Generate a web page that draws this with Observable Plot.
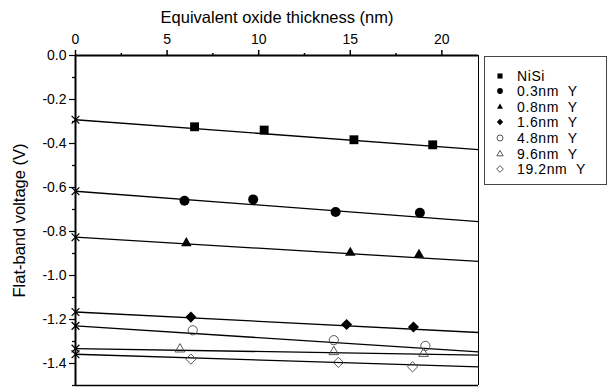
<!DOCTYPE html>
<html>
<head>
<meta charset="utf-8">
<script src="https://cdn.jsdelivr.net/npm/d3@7"></script>
<script src="https://cdn.jsdelivr.net/npm/@observablehq/plot@0.6"></script>
<style>
  html, body { margin: 0; padding: 0; background: #fff; }
  #wrap { position: relative; width: 610px; height: 392px; font-family: "Liberation Sans", Arial, sans-serif; }
  #legend { position: absolute; left: 484px; top: 56px; width: 123px; height: 129px; border: 1px solid #444; box-sizing: border-box; background: #fff; }
  #legend .row { position: absolute; left: 0; height: 15px; display: flex; align-items: center; font-size: 14px; letter-spacing: 0.6px; color: #000; white-space: pre; }
  #legend svg { width: 14px; height: 14px; margin-left: 8px; margin-right: 10px; overflow: visible; }
</style>
</head>
<body>
<div id="wrap"></div>
<script>
// ---- data ----
const seriesNames = ["NiSi", "0.3nm Y", "0.8nm Y", "1.6nm Y", "4.8nm Y", "9.6nm Y", "19.2nm Y"];
const seriesSymbols = ["square", "circle", "triangle2", "diamond2", "circle", "triangle2", "diamond2"];
const seriesFilled = [true, true, true, true, false, false, false];

const eotNiSi = [6.5, 10.3, 15.2, 19.5];
const vfbNiSi = [-0.324, -0.339, -0.383, -0.406];
const eot03 = [5.95, 9.7, 14.2, 18.8];
const vfb03 = [-0.660, -0.654, -0.711, -0.715];
const eot08 = [6.05, 15.0, 18.75];
const vfb08 = [-0.853, -0.897, -0.906];
const eot16 = [6.3, 14.8, 18.45];
const vfb16 = [-1.189, -1.223, -1.234];
const eot48 = [6.4, 14.1, 19.1];
const vfb48 = [-1.249, -1.294, -1.320];
const eot96 = [5.7, 14.1, 19.0];
const vfb96 = [-1.335, -1.347, -1.355];
const eot192 = [6.3, 14.35, 18.4];
const vfb192 = [-1.380, -1.395, -1.415];

// linear fits: value at EOT = 0 and at EOT = 22
const fitStart = [-0.292, -0.617, -0.826, -1.166, -1.229, -1.332, -1.358];
const fitEnd   = [-0.428, -0.755, -0.936, -1.259, -1.347, -1.362, -1.415];
const fitX = [0, 22];

const xTicks = [0, 5, 10, 15, 20];
const xMinor = [2.5, 7.5, 12.5, 17.5];
const yTicks = [0, -0.2, -0.4, -0.6, -0.8, -1.0, -1.2, -1.4];
const yMinor = [-0.1, -0.3, -0.5, -0.7, -0.9, -1.1, -1.3, -1.5];

// ---- build tables ----
const eots = [eotNiSi, eot03, eot08, eot16, eot48, eot96, eot192];
const vfbs = [vfbNiSi, vfb03, vfb08, vfb16, vfb48, vfb96, vfb192];
const points = [];
seriesNames.forEach((s, i) => eots[i].forEach((x, j) => points.push({series: s, i, x, y: vfbs[i][j]})));
const fits = [];
seriesNames.forEach((s, i) => { fits.push({series: s, x: fitX[0], y: fitStart[i]}); fits.push({series: s, x: fitX[1], y: fitEnd[i]}); });
const intercepts = seriesNames.map((s, i) => ({series: s, x: 0, y: fitStart[i]}));

const font = "Liberation Sans, Arial, sans-serif";
const filledPts = points.filter(d => seriesFilled[d.i]);
const hollowPts = points.filter(d => !seriesFilled[d.i]);

const chart = Plot.plot({
  width: 610,
  height: 392,
  marginTop: 55,
  marginLeft: 75,
  marginRight: 132,
  marginBottom: 7,
  style: {fontFamily: font, fontSize: "14px", color: "#000", background: "#fff"},
  x: {domain: [0, 22]},
  y: {domain: [-1.5, 0]},
  symbol: {domain: seriesNames, range: seriesSymbols},
  marks: [
    // frame
    Plot.ruleX([22], {stroke: "#000", strokeWidth: 1}),
    Plot.ruleY([-1.5], {stroke: "#000", strokeWidth: 1.5}),
    Plot.ruleX([0], {stroke: "#000", strokeWidth: 2}),
    Plot.ruleY([0], {stroke: "#000", strokeWidth: 2}),
    // axes
    Plot.axisX({anchor: "top", ticks: xTicks, tickSize: 6, tickPadding: 6, tickFormat: d => String(d), label: null, fontSize: 14, stroke: "#000", strokeWidth: 1.5}),
    Plot.axisX({anchor: "top", ticks: xMinor, tickSize: 3, tickFormat: () => "", label: null, stroke: "#000", strokeWidth: 1.5}),
    Plot.axisY({anchor: "left", ticks: yTicks, tickSize: 6, tickPadding: 3, tickFormat: d => d.toFixed(1), label: null, fontSize: 14, stroke: "#000", strokeWidth: 1.2}),
    Plot.axisY({anchor: "left", ticks: yMinor, tickSize: 3, tickFormat: () => "", label: null, stroke: "#000", strokeWidth: 1.2}),
    // titles
    Plot.text(["Equivalent oxide thickness (nm)"], {frameAnchor: "top", dy: -44, fontSize: 16.5, fill: "#000"}),
    Plot.text(["Flat-band voltage (V)"], {frameAnchor: "left", textAnchor: "middle", dx: -56, rotate: -90, fontSize: 16.5, fill: "#000"}),
    // fit lines
    Plot.line(fits, {x: "x", y: "y", z: "series", stroke: "#000", strokeWidth: 1.3}),
    // intercept markers
    Plot.dot(intercepts, {x: "x", y: "y", symbol: "times", r: 3.6, stroke: "#000", strokeWidth: 1.3}),
    // data points
    Plot.dot(filledPts, {x: "x", y: "y", symbol: "series", r: 5, fill: "#000", stroke: "none"}),
    Plot.dot(hollowPts, {x: "x", y: "y", symbol: "series", r: 4.6, fill: "none", stroke: "#444", strokeWidth: 0.9})
  ]
});

const wrap = document.getElementById("wrap");
wrap.appendChild(chart);

// legend
const legend = document.createElement("div");
legend.id = "legend";
const symGen = {square: d3.symbolSquare, circle: d3.symbolCircle, triangle2: d3.symbolTriangle2, diamond2: d3.symbolDiamond2};
seriesNames.forEach((name, i) => {
  const row = document.createElement("div");
  row.className = "row";
  row.style.top = (11 + i * 15.6) + "px";
  const svg = d3.create("svg").attr("viewBox", "-7 -7 14 14");
  const size = seriesFilled[i] ? 26 : 28;
  svg.append("path")
    .attr("d", d3.symbol(symGen[seriesSymbols[i]], size)())
    .attr("fill", seriesFilled[i] ? "#000" : "none")
    .attr("stroke", seriesFilled[i] ? "none" : "#444")
    .attr("stroke-width", 0.9);
  row.appendChild(svg.node());
  const span = document.createElement("span");
  span.textContent = name.replace(" ", "  ");
  row.appendChild(span);
  legend.appendChild(row);
});
wrap.appendChild(legend);
</script>
</body>
</html>
